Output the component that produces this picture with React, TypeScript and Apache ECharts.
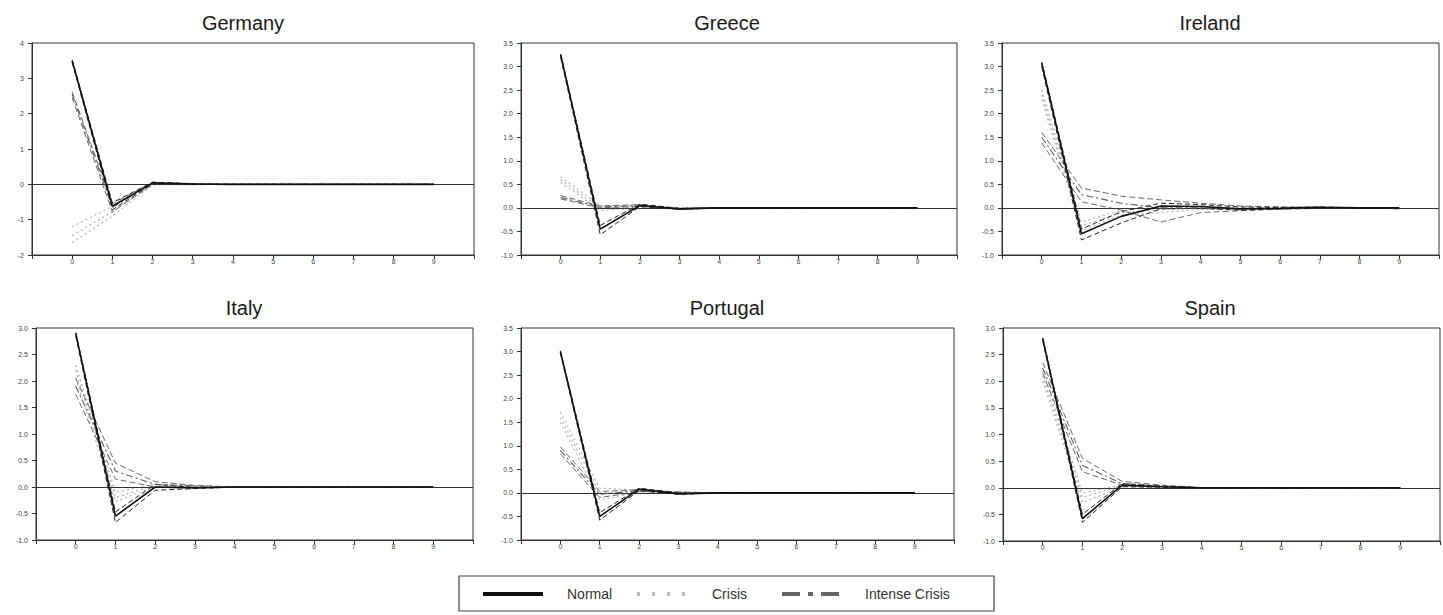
import React, { useEffect, useRef } from "react";
import * as echarts from "echarts";

// ---------- data ----------
const horizons = [0, 1, 2, 3, 4, 5, 6, 7, 8, 9];
const countryNames = ["Germany", "Greece", "Ireland", "Italy", "Portugal", "Spain"];
const regimeNames = ["Normal", "Crisis", "Intense Crisis"];

// each regime: [central, upper band, lower band]
const germanyNormal = [
  [3.5, -0.62, 0.04, 0.01, 0, 0, 0, 0, 0, 0],
  [3.52, -0.52, 0.06, 0.02, 0, 0, 0, 0, 0, 0],
  [3.45, -0.72, 0.02, 0.0, 0, 0, 0, 0, 0, 0],
];
const germanyCrisis = [
  [-1.45, -0.78, 0.0, 0, 0, 0, 0, 0, 0, 0],
  [-1.2, -0.62, 0.02, 0, 0, 0, 0, 0, 0, 0],
  [-1.65, -0.9, -0.02, 0, 0, 0, 0, 0, 0, 0],
];
const germanyIntense = [
  [2.55, -0.65, 0.03, 0.01, 0, 0, 0, 0, 0, 0],
  [2.62, -0.55, 0.06, 0.02, 0, 0, 0, 0, 0, 0],
  [2.45, -0.78, 0.0, -0.01, 0, 0, 0, 0, 0, 0],
];

const greeceNormal = [
  [3.25, -0.45, 0.05, -0.02, 0, 0, 0, 0, 0, 0],
  [3.27, -0.37, 0.08, -0.01, 0, 0, 0, 0, 0, 0],
  [3.2, -0.57, 0.03, -0.03, 0, 0, 0, 0, 0, 0],
];
const greeceCrisis = [
  [0.6, 0.0, 0.02, -0.01, 0, 0, 0, 0, 0, 0],
  [0.66, 0.05, 0.03, 0.0, 0, 0, 0, 0, 0, 0],
  [0.54, -0.05, 0.0, -0.02, 0, 0, 0, 0, 0, 0],
];
const greeceIntense = [
  [0.22, 0.02, 0.05, -0.02, 0, 0, 0, 0, 0, 0],
  [0.26, 0.04, 0.07, -0.01, 0, 0, 0, 0, 0, 0],
  [0.19, 0.0, 0.03, -0.03, 0, 0, 0, 0, 0, 0],
];

const irelandNormal = [
  [3.07, -0.55, -0.18, 0.04, 0.03, -0.02, -0.01, 0.01, 0, 0],
  [3.1, -0.45, -0.08, 0.1, 0.07, 0.02, 0.01, 0.02, 0, -0.01],
  [3.0, -0.68, -0.32, -0.02, -0.01, -0.05, -0.02, 0, 0, -0.02],
];
const irelandCrisis = [
  [2.4, -0.38, -0.1, -0.04, 0.0, -0.02, 0, 0, 0, 0],
  [2.5, -0.3, -0.05, 0.02, 0.03, 0, 0.01, 0, 0, 0],
  [2.3, -0.48, -0.15, -0.1, -0.03, -0.03, -0.01, 0, 0, 0],
];
const irelandIntense = [
  [1.5, 0.28, 0.1, 0.0, 0.0, -0.02, -0.01, 0, 0, 0],
  [1.6, 0.42, 0.25, 0.17, 0.1, 0.04, 0.02, 0.01, 0, 0],
  [1.38, 0.13, -0.05, -0.3, -0.1, -0.06, -0.03, -0.01, 0, 0],
];

const italyNormal = [
  [2.9, -0.55, 0.0, -0.02, 0, 0, 0, 0, 0, 0],
  [2.92, -0.47, 0.05, -0.01, 0, 0, 0, 0, 0, 0],
  [2.85, -0.67, -0.06, -0.03, 0, 0, 0, 0, 0, 0],
];
const italyCrisis = [
  [2.2, -0.2, 0.04, 0.01, 0, 0, 0, 0, 0, 0],
  [2.3, -0.1, 0.06, 0.02, 0, 0, 0, 0, 0, 0],
  [2.05, -0.28, 0.02, 0.0, 0, 0, 0, 0, 0, 0],
];
const italyIntense = [
  [1.9, 0.3, 0.05, 0.02, 0, 0, 0, 0, 0, 0],
  [2.05, 0.45, 0.1, 0.03, 0, 0, 0, 0, 0, 0],
  [1.75, 0.15, 0.0, 0.0, 0, 0, 0, 0, 0, 0],
];

const portugalNormal = [
  [3.0, -0.5, 0.08, -0.02, 0, 0, 0, 0, 0, 0],
  [3.02, -0.42, 0.1, 0.0, 0, 0, 0, 0, 0, 0],
  [2.97, -0.58, 0.05, -0.03, 0, 0, 0, 0, 0, 0],
];
const portugalCrisis = [
  [1.6, 0.0, 0.04, 0.01, 0, 0, 0, 0, 0, 0],
  [1.72, 0.1, 0.06, 0.02, 0, 0, 0, 0, 0, 0],
  [1.5, -0.15, 0.02, 0.0, 0, 0, 0, 0, 0, 0],
];
const portugalIntense = [
  [0.9, -0.03, 0.05, 0.01, 0, 0, 0, 0, 0, 0],
  [0.98, 0.03, 0.07, 0.02, 0, 0, 0, 0, 0, 0],
  [0.83, -0.1, 0.03, 0.0, 0, 0, 0, 0, 0, 0],
];

const spainNormal = [
  [2.8, -0.58, 0.05, 0.02, 0, 0, 0, 0, 0, 0],
  [2.82, -0.5, 0.08, 0.03, 0, 0, 0, 0, 0, 0],
  [2.76, -0.65, 0.02, 0.01, 0, 0, 0, 0, 0, 0],
];
const spainCrisis = [
  [2.1, -0.18, 0.04, 0.02, 0, 0, 0, 0, 0, 0],
  [2.2, -0.1, 0.06, 0.03, 0, 0, 0, 0, 0, 0],
  [2.0, -0.28, 0.02, 0.01, 0, 0, 0, 0, 0, 0],
];
const spainIntense = [
  [2.25, 0.42, 0.08, 0.03, 0, 0, 0, 0, 0, 0],
  [2.35, 0.55, 0.12, 0.05, 0, 0, 0, 0, 0, 0],
  [2.15, 0.3, 0.05, 0.02, 0, 0, 0, 0, 0, 0],
];

const countryData = [
  [germanyNormal, germanyCrisis, germanyIntense],
  [greeceNormal, greeceCrisis, greeceIntense],
  [irelandNormal, irelandCrisis, irelandIntense],
  [italyNormal, italyCrisis, italyIntense],
  [portugalNormal, portugalCrisis, portugalIntense],
  [spainNormal, spainCrisis, spainIntense],
];

// y-axis ranges: [min, max, step, decimals]
const yRanges = [
  [-2, 4, 1, 0],
  [-1, 3.5, 0.5, 1],
  [-1, 3.5, 0.5, 1],
  [-1, 3, 0.5, 1],
  [-1, 3.5, 0.5, 1],
  [-1, 3, 0.5, 1],
];

// ---------- layout ----------
const grids = [
  { left: 32, top: 43, width: 442, height: 212 },
  { left: 521, top: 43, width: 436, height: 212 },
  { left: 1002, top: 43, width: 437, height: 212 },
  { left: 36, top: 328, width: 437, height: 212 },
  { left: 521, top: 328, width: 433, height: 212 },
  { left: 1003, top: 328, width: 437, height: 213 },
];
const titlePos = [
  [243, 13],
  [727, 13],
  [1210, 13],
  [244, 298],
  [727, 298],
  [1210, 298],
];

const FONT = "'Liberation Sans', Arial, sans-serif";

const regimeStyles = [
  { central: { color: "#111", width: 1.6, type: "solid" }, band: { color: "#222", width: 1, type: [5, 3] }, z: 5 },
  { central: { color: "#b4b4b4", width: 1.3, type: [2, 3] }, band: { color: "#b4b4b4", width: 1.2, type: [2, 3] }, z: 3 },
  { central: { color: "#5e5e5e", width: 1.1, type: [7, 3, 2, 3] }, band: { color: "#6a6a6a", width: 1, type: [6, 3] }, z: 4 },
];

function buildOption() {
  const series: any[] = [];
  countryData.forEach((regimes, ci) => {
    regimes.forEach((lines, ri) => {
      lines.forEach((vals, li) => {
        const st = regimeStyles[ri];
        const ls = li === 0 ? st.central : st.band;
        const s: any = {
          type: "line",
          name: li === 0 ? regimeNames[ri] : regimeNames[ri] + (li === 1 ? " upper" : " lower"),
          xAxisIndex: ci,
          yAxisIndex: ci,
          data: horizons.map((h, k) => [h, vals[k]]),
          showSymbol: false,
          symbol: "none",
          silent: true,
          z: st.z + (li === 0 ? 1 : 0),
          lineStyle: { color: ls.color, width: ls.width, type: ls.type },
        };
        if (ri === 0 && li === 0) {
          s.markLine = {
            silent: true,
            symbol: "none",
            label: { show: false },
            lineStyle: { color: "#333", width: 1.2, type: "solid" },
            data: [{ yAxis: 0 }],
          };
        }
        series.push(s);
      });
    });
  });

  const legendY = 594;
  return {
    animation: false,
    backgroundColor: "#fff",
    title: countryNames.map((n, i) => ({
      text: n,
      left: titlePos[i][0],
      top: titlePos[i][1],
      textAlign: "center",
      padding: 0,
      textStyle: { fontSize: 20, fontWeight: "normal", color: "#1a1a1a", fontFamily: FONT },
    })),
    grid: grids.map((g) => ({ ...g, show: true, borderColor: "#333", borderWidth: 1, backgroundColor: "transparent" })),
    xAxis: grids.map((_, i) => ({
      type: "value",
      gridIndex: i,
      min: -1,
      max: 10,
      interval: 1,
      axisLine: { show: true, onZero: false, lineStyle: { color: "#333", width: 1 } },
      axisTick: { show: true, length: 4, lineStyle: { color: "#333" } },
      splitLine: { show: false },
      axisLabel: {
        fontSize: 7,
        color: "#444",
        margin: 3,
        fontFamily: FONT,
        formatter: (v: number) => (v >= 0 && v <= 9 ? String(v) : ""),
      },
    })),
    yAxis: yRanges.map((r, i) => ({
      type: "value",
      gridIndex: i,
      min: r[0],
      max: r[1],
      interval: r[2],
      axisLine: { show: true, onZero: false, lineStyle: { color: "#333", width: 1 } },
      axisTick: { show: true, length: 4, lineStyle: { color: "#333" } },
      splitLine: { show: false },
      axisLabel: {
        fontSize: 7,
        color: "#444",
        margin: 8,
        fontFamily: FONT,
        formatter: (v: number) => v.toFixed(r[3]),
      },
    })),
    series,
    graphic: [
      {
        type: "rect",
        shape: { x: 459, y: 576, width: 535, height: 35 },
        style: { fill: "none", stroke: "#444", lineWidth: 1.2 },
        silent: true,
      },
      {
        type: "line",
        shape: { x1: 483, y1: legendY, x2: 543, y2: legendY },
        style: { stroke: "#111", lineWidth: 4 },
        silent: true,
      },
      {
        type: "text",
        x: 567,
        y: legendY,
        style: { text: "Normal", fontSize: 14, fill: "#333", fontFamily: FONT, textVerticalAlign: "middle", verticalAlign: "middle" },
        silent: true,
      },
      {
        type: "line",
        shape: { x1: 637, y1: legendY, x2: 686, y2: legendY },
        style: { stroke: "#bbb", lineWidth: 4, lineDash: [3, 12] },
        silent: true,
      },
      {
        type: "text",
        x: 712,
        y: legendY,
        style: { text: "Crisis", fontSize: 14, fill: "#333", fontFamily: FONT, textVerticalAlign: "middle", verticalAlign: "middle" },
        silent: true,
      },
      {
        type: "line",
        shape: { x1: 782, y1: legendY, x2: 839, y2: legendY },
        style: { stroke: "#666", lineWidth: 4, lineDash: [18, 8, 5, 8] },
        silent: true,
      },
      {
        type: "text",
        x: 865,
        y: legendY,
        style: { text: "Intense Crisis", fontSize: 14, fill: "#333", fontFamily: FONT, textVerticalAlign: "middle", verticalAlign: "middle" },
        silent: true,
      },
    ],
  };
}

export default function App() {
  const ref = useRef<HTMLDivElement>(null);
  useEffect(() => {
    if (!ref.current) return;
    const chart = echarts.init(ref.current, undefined, { renderer: "svg" });
    chart.setOption(buildOption() as any);
    return () => chart.dispose();
  }, []);
  return (
    <div
      ref={ref}
      style={{ position: "fixed", left: 0, top: 0, width: 1443, height: 615, background: "#fff" }}
    />
  );
}
